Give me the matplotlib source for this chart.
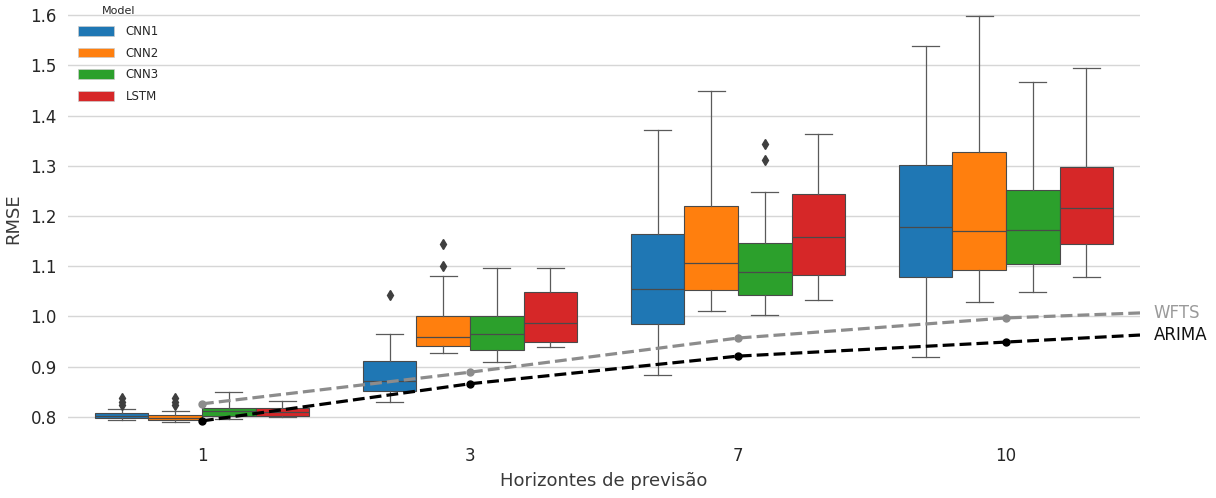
import matplotlib
matplotlib.use("Agg")
import matplotlib.pyplot as plt
from matplotlib.patches import Patch

# ---------------- data ----------------
horizons = ["1", "3", "7", "10"]
models = ["CNN1", "CNN2", "CNN3", "LSTM"]
colors = ["#1f77b4", "#ff7f0e", "#2ca02c", "#d62728"]

# box statistics per model, one value per horizon
cnn1_q1  = [0.797, 0.852, 0.985, 1.078]
cnn1_med = [0.801, 0.872, 1.054, 1.179]
cnn1_q3  = [0.807, 0.912, 1.165, 1.302]
cnn1_lo  = [0.793, 0.829, 0.883, 0.920]
cnn1_hi  = [0.815, 0.965, 1.372, 1.538]
cnn1_out = [[0.838, 0.830, 0.823], [1.043], [], []]

cnn2_q1  = [0.794, 0.942, 1.053, 1.092]
cnn2_med = [0.797, 0.959, 1.106, 1.170]
cnn2_q3  = [0.803, 1.001, 1.219, 1.328]
cnn2_lo  = [0.790, 0.927, 1.010, 1.029]
cnn2_hi  = [0.812, 1.081, 1.449, 1.599]
cnn2_out = [[0.837, 0.830, 0.824], [1.144, 1.101], [], []]

cnn3_q1  = [0.802, 0.933, 1.042, 1.105]
cnn3_med = [0.812, 0.965, 1.089, 1.172]
cnn3_q3  = [0.818, 1.001, 1.147, 1.252]
cnn3_lo  = [0.795, 0.910, 1.002, 1.049]
cnn3_hi  = [0.849, 1.097, 1.247, 1.467]
cnn3_out = [[], [], [1.343, 1.311], []]

lstm_q1  = [0.802, 0.949, 1.083, 1.144]
lstm_med = [0.810, 0.987, 1.158, 1.215]
lstm_q3  = [0.817, 1.049, 1.244, 1.297]
lstm_lo  = [0.799, 0.940, 1.033, 1.079]
lstm_hi  = [0.832, 1.097, 1.363, 1.495]
lstm_out = [[], [], [], []]

# reference models (last value = end of the line at the right edge)
line_pos = [0, 1, 2, 3, 3.5]
wfts  = [0.826, 0.889, 0.957, 0.997, 1.007]
arima = [0.792, 0.866, 0.921, 0.949, 0.963]

stats_by_model = [
    (cnn1_q1, cnn1_med, cnn1_q3, cnn1_lo, cnn1_hi, cnn1_out),
    (cnn2_q1, cnn2_med, cnn2_q3, cnn2_lo, cnn2_hi, cnn2_out),
    (cnn3_q1, cnn3_med, cnn3_q3, cnn3_lo, cnn3_hi, cnn3_out),
    (lstm_q1, lstm_med, lstm_q3, lstm_lo, lstm_hi, lstm_out),
]

# ---------------- figure ----------------
fig = plt.figure(figsize=(12.16, 4.98), dpi=100)
ax = fig.add_axes([0.0559, 0.1225, 0.8816, 0.8775])

edge = "#4a4a4a"
wcol = "#5a5a5a"
box_w = 0.2
offsets = [-0.3, -0.1, 0.1, 0.3]

for m, (st, col, off) in enumerate(zip(stats_by_model, colors, offsets)):
    q1, med, q3, lo, hi, out = st
    bstats = []
    for i in range(len(horizons)):
        bstats.append(dict(q1=q1[i], med=med[i], q3=q3[i], whislo=lo[i],
                           whishi=hi[i], fliers=out[i], label=horizons[i]))
    pos = [i + off for i in range(len(horizons))]
    ax.bxp(bstats, positions=pos, widths=box_w, patch_artist=True,
           showfliers=True, manage_ticks=False,
           boxprops=dict(facecolor=col, edgecolor=edge, linewidth=0.8),
           medianprops=dict(color=edge, linewidth=0.9),
           whiskerprops=dict(color=wcol, linewidth=0.9),
           capprops=dict(color=wcol, linewidth=0.9),
           flierprops=dict(marker="d", markerfacecolor="#3f3f3f",
                           markeredgecolor="#3f3f3f",
                           markersize=5, linestyle="none"))

ax.plot(line_pos, wfts, linestyle="--", color="#8c8c8c", linewidth=2.3,
        marker="o", markersize=5, markevery=[0, 1, 2, 3], zorder=5)
ax.plot(line_pos, arima, linestyle="--", color="black", linewidth=2.3,
        marker="o", markersize=5, markevery=[0, 1, 2, 3], zorder=5)

ax.text(3.55, wfts[-1], "WFTS", color="#9a9a9a", fontsize=12,
        va="center", ha="left", clip_on=False)
ax.text(3.55, arima[-1], "ARIMA", color="#111111", fontsize=12,
        va="center", ha="left", clip_on=False)

ax.set_xlim(-0.5, 3.5)
ax.set_ylim(0.760, 1.630)
ax.set_xticks(range(len(horizons)))
ax.set_xticklabels(horizons)
ax.set_yticks([0.8, 0.9, 1.0, 1.1, 1.2, 1.3, 1.4, 1.5, 1.6])
ax.tick_params(axis="both", length=0, labelsize=12, colors="#262626")
ax.tick_params(axis="x", pad=7)
ax.tick_params(axis="y", pad=8)
ax.grid(axis="y", color="#d6d6d6", linewidth=1.0)
ax.set_axisbelow(True)
for s in ax.spines.values():
    s.set_visible(False)

ax.set_xlabel("Horizontes de previsão", fontsize=13, color="#3a3a3a", labelpad=5)
ax.set_ylabel("RMSE", fontsize=13, color="#3a3a3a", labelpad=6)

handles = [Patch(facecolor=c, edgecolor="#cccccc", linewidth=0.5) for c in colors]
leg = ax.legend(handles, models, title="Model", loc="upper left",
                bbox_to_anchor=(0.004, 1.0), frameon=False, fontsize=8.5,
                title_fontsize=8, handlelength=3.0, handleheight=0.9,
                labelspacing=0.75, borderaxespad=0.1, handletextpad=1.0)
for t in leg.get_texts():
    t.set_color("#262626")
leg.get_title().set_color("#262626")

fig.savefig("out.png", dpi=100)
